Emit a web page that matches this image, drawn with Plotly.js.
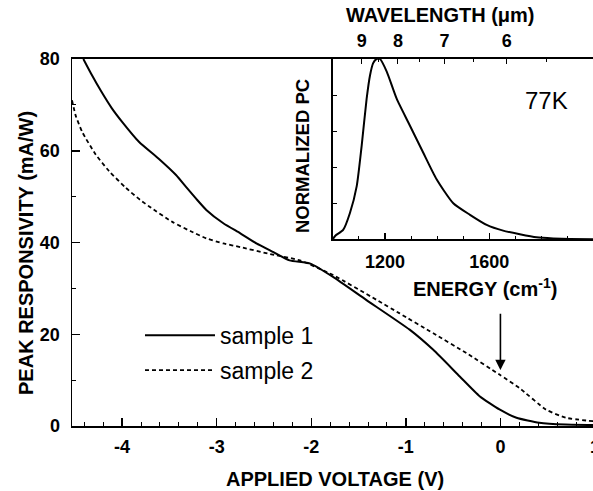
<!DOCTYPE html>
<html>
<head>
<meta charset="utf-8">
<script src="https://cdn.plot.ly/plotly-3.0.1.min.js"></script>
<style>
html,body{margin:0;padding:0;overflow:hidden;background:#fff;}
#chart{width:600px;height:491px;}
</style>
</head>
<body>
<div id="chart"></div>
<script>
// ---- Main panel data: peak responsivity (mA/W) vs applied voltage (V) ----
const voltage1 = [-4.41,-4.32,-4.22,-4.11,-4.00,-3.82,-3.61,-3.43,-3.32,-3.22,-3.11,-2.93,-2.75,-2.58,-2.40,-2.23,-2.01,-1.77,-1.42,-0.96,-0.71,-0.43,-0.22,-0.01,0.17,0.41,0.69,1.0];
const sample1  = [80,76.5,72.9,69.3,66.3,61.9,58.2,54.7,52.0,49.6,47.1,44.2,42.0,39.8,37.9,36.1,35.4,32.5,27.5,21.0,16.6,10.8,6.5,3.6,1.8,0.7,0.3,0.2];
const voltage2 = [-4.53,-4.49,-4.42,-4.28,-4.14,-3.96,-3.81,-3.71,-3.47,-3.28,-3.11,-2.93,-2.75,-2.46,-2.12,-1.77,-1.31,-1.07,-0.71,-0.36,-0.01,0.20,0.48,0.69,1.0];
const sample2  = [71.0,67.6,64.0,59.2,55.6,51.9,49.3,47.8,44.5,42.5,40.9,39.8,39.0,37.6,36.1,32.9,27.5,24.6,20.2,15.9,11.2,8.3,3.6,1.8,1.0];
const seriesNames = ["sample 1", "sample 2"];

// ---- Inset data: normalized photocurrent spectrum at 77K ----
const energy = [1000,1010,1040,1066,1092,1111,1130,1143,1155,1168,1181,1207,1245,1296,1347,1398,1462,1526,1590,1653,1717,1781,1845,1910,2005];
const normPC = [0.0,0.02,0.052,0.146,0.295,0.52,0.78,0.91,0.977,1.0,1.0,0.93,0.78,0.63,0.48,0.333,0.20,0.136,0.08,0.048,0.028,0.011,0.005,0.002,0.0];

// ---- Tick labels ----
const wavelengthTicks = [9, 8, 7, 6];
const wavelengthHalfTicks = [8.5, 7.5, 6.5, 5.5];
const energyTicks = [1200, 1600];
const voltageTicks = [-4, -3, -2, -1, 0, 1];
const responsivityTicks = [0, 20, 40, 60, 80];

const FONT = "Liberation Sans, Arial, Helvetica, sans-serif";
const tickFont = {family: FONT, size: 18, color: "#000", weight: "bold"};
const titleFont = {family: FONT, size: 20, color: "#000", weight: "bold"};

const traces = [
  {x: voltage1, y: sample1, name: seriesNames[0], mode: "lines", type: "scatter",
   xaxis: "x", yaxis: "y", line: {color: "#000", width: 2, shape: "spline", smoothing: 0.5},
   legendgroup: "a"},
  {x: voltage2, y: sample2, name: seriesNames[1], mode: "lines", type: "scatter",
   xaxis: "x", yaxis: "y", line: {color: "#000", width: 1.8, dash: "4px,3px", shape: "spline", smoothing: 0.5},
   legendgroup: "b"},
  {x: energy, y: normPC, name: "77K", mode: "lines", type: "scatter", showlegend: false,
   xaxis: "x2", yaxis: "y2", line: {color: "#000", width: 2, shape: "spline", smoothing: 0.6}},
  {x: wavelengthTicks.map(w => 1e4 / w), y: wavelengthTicks.map(() => null), mode: "lines",
   type: "scatter", showlegend: false, xaxis: "x3", yaxis: "y2", hoverinfo: "skip"},
  {x: wavelengthHalfTicks.map(w => 1e4 / w), y: wavelengthHalfTicks.map(() => null), mode: "lines",
   type: "scatter", showlegend: false, xaxis: "x4", yaxis: "y2", hoverinfo: "skip"}
];

const layout = {
  width: 600, height: 491,
  margin: {l: 72, r: 5, t: 59, b: 65},
  paper_bgcolor: "#fff", plot_bgcolor: "rgba(0,0,0,0)",
  showlegend: true,
  legend: {x: 0.130, y: 0.306, xanchor: "left", yanchor: "top",
           font: {family: FONT, size: 23, color: "#000"},
           bgcolor: "rgba(0,0,0,0)", tracegroupgap: 2, itemwidth: 70},
  xaxis: {
    domain: [0, 1], range: [-4.53, 1.0], anchor: "y",
    tickvals: voltageTicks, ticktext: voltageTicks.map(String),
    ticks: "inside", ticklen: 8, tickwidth: 1.5, tickcolor: "#000",
    minor: {dtick: 0.2, tick0: 0, ticks: "inside", ticklen: 4, tickwidth: 1, tickcolor: "#000"},
    showline: true, linecolor: "#000", linewidth: 2, mirror: true,
    showgrid: false, zeroline: false, tickfont: tickFont, ticklabelstandoff: 3,
    ticklabeloverflow: "allow"
  },
  yaxis: {
    domain: [0, 1], range: [0, 80], anchor: "x",
    tickvals: responsivityTicks, ticktext: responsivityTicks.map(String),
    ticks: "inside", ticklen: 8, tickwidth: 1.5, tickcolor: "#000",
    minor: {dtick: 10, tick0: 0, ticks: "inside", ticklen: 4, tickwidth: 1, tickcolor: "#000"},
    showline: true, linecolor: "#000", linewidth: 1.5, mirror: true,
    showgrid: false, zeroline: false, tickfont: tickFont, ticklabelstandoff: 7
  },
  xaxis2: {
    domain: [0.4985, 1], range: [1000, 2005], anchor: "y2",
    tickmode: "array", tickvals: energyTicks, ticktext: energyTicks.map(String),
    ticks: "inside", ticklen: 6, tickwidth: 1.2, tickcolor: "#000",
    minor: {dtick: 100, tick0: 1000, ticks: "inside", ticklen: 3, tickwidth: 1, tickcolor: "#000"},
    showline: true, linecolor: "#000", linewidth: 1.5, mirror: true,
    showgrid: false, zeroline: false, tickfont: tickFont, ticklabelstandoff: 6
  },
  yaxis2: {
    domain: [0.5087, 1], range: [0, 1.0], anchor: "x2",
    dtick: 0.2, tick0: 0, showticklabels: false,
    ticks: "inside", ticklen: 4, tickwidth: 1, tickcolor: "#000",
    showline: true, linecolor: "#000", linewidth: 1.5, mirror: true,
    showgrid: false, zeroline: false
  },
  xaxis3: {
    overlaying: "x2", anchor: "y2", side: "top", range: [1000, 2005],
    tickmode: "array", tickvals: wavelengthTicks.map(w => 1e4 / w), ticktext: wavelengthTicks.map(String),
    ticks: "inside", ticklen: 5, tickwidth: 1, tickcolor: "#000",
    showline: false, showgrid: false, zeroline: false, tickfont: tickFont, ticklabelstandoff: 7
  },
  xaxis4: {
    overlaying: "x2", anchor: "y2", side: "top", range: [1000, 2005],
    tickmode: "array", tickvals: wavelengthHalfTicks.map(w => 1e4 / w), showticklabels: false,
    ticks: "inside", ticklen: 3, tickwidth: 1, tickcolor: "#000",
    showline: false, showgrid: false, zeroline: false
  },
  annotations: [
    {text: "APPLIED VOLTAGE (V)", xref: "paper", yref: "paper", x: 0.503, y: -0.1444,
     xanchor: "center", yanchor: "middle", showarrow: false, font: titleFont},
    {text: "PEAK RESPONSIVITY (mA/W)", xref: "paper", yref: "paper", x: -0.088, y: 0.4714,
     xanchor: "center", yanchor: "middle", textangle: -90, showarrow: false, font: titleFont},
    {text: "NORMALIZED PC", xref: "paper", yref: "paper", x: 0.4417, y: 0.7357,
     xanchor: "center", yanchor: "middle", textangle: -90, showarrow: false,
     font: {family: FONT, size: 18.5, color: "#000", weight: "bold"}},
    {text: "ENERGY (cm<sup>-1</sup>)", xref: "paper", yref: "paper", x: 0.7897, y: 0.3787,
     xanchor: "center", yanchor: "middle", showarrow: false, font: titleFont},
    {text: "WAVELENGTH (μm)", xref: "paper", yref: "paper", x: 0.7055, y: 1.1199,
     xanchor: "center", yanchor: "middle", showarrow: false, font: titleFont},
    {text: "77K", xref: "paper", yref: "paper", x: 0.9082, y: 0.888,
     xanchor: "center", yanchor: "middle", showarrow: false,
     font: {family: FONT, size: 24, color: "#000"}},
    {x: 0, y: 12.2, xref: "x", yref: "y", ax: 0, ay: 24.8, axref: "x", ayref: "y",
     showarrow: true, arrowhead: 2, arrowsize: 1.3, arrowwidth: 1.6, arrowcolor: "#000", text: ""}
  ]
};

Plotly.newPlot("chart", traces, layout, {displayModeBar: false, staticPlot: true});
</script>
</body>
</html>
